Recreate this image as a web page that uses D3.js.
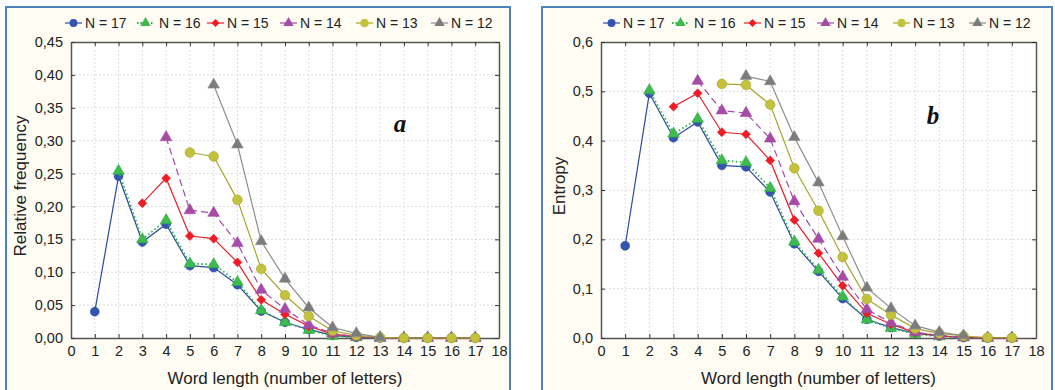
<!DOCTYPE html>
<html>
<head>
<meta charset="utf-8">
<script src="https://cdn.jsdelivr.net/npm/d3@7"></script>
<style>
	body{margin:0;background:#fff;}
	svg{display:block;font-family:"Liberation Sans", Arial, sans-serif;}
</style>
</head>
<body>
<div id="chart"></div>
<script>
// series labels and the word length each series starts at
const seriesNames = ['N = 17', 'N = 16', 'N = 15', 'N = 14', 'N = 13', 'N = 12'];
const seriesStart = [1, 2, 3, 4, 5, 6];

// relative frequency (panel a), values from word length = seriesStart
const freqN17 = [0.040, 0.246, 0.146, 0.173, 0.110, 0.107, 0.081, 0.041, 0.024, 0.013, 0.004, 0.001, 0, 0, 0, 0, 0];
const freqN16 = [0.254, 0.150, 0.179, 0.113, 0.112, 0.085, 0.042, 0.024, 0.012, 0.003, 0.001, 0, 0, 0, 0, 0];
const freqN15 = [0.205, 0.243, 0.155, 0.151, 0.115, 0.058, 0.036, 0.018, 0.006, 0.002, 0, 0, 0, 0, 0];
const freqN14 = [0.305, 0.194, 0.190, 0.144, 0.073, 0.044, 0.020, 0.007, 0.002, 0, 0, 0, 0, 0];
const freqN13 = [0.282, 0.276, 0.210, 0.105, 0.065, 0.033, 0.011, 0.004, 0.001, 0, 0, 0, 0];
const freqN12 = [0.385, 0.294, 0.147, 0.090, 0.046, 0.016, 0.007, 0.001];

// entropy (panel b)
const entN17 = [0.187, 0.496, 0.406, 0.438, 0.350, 0.347, 0.296, 0.191, 0.135, 0.080, 0.038, 0.021, 0.0095, 0.004, 0.001, 0, 0];
const entN16 = [0.502, 0.414, 0.444, 0.360, 0.356, 0.304, 0.195, 0.138, 0.084, 0.037, 0.020, 0.008, 0.003, 0.001, 0, 0];
const entN15 = [0.469, 0.496, 0.417, 0.413, 0.360, 0.239, 0.172, 0.106, 0.050, 0.028, 0.011, 0.005, 0.001, 0, 0];
const entN14 = [0.521, 0.461, 0.456, 0.404, 0.277, 0.201, 0.124, 0.058, 0.031, 0.012, 0.005, 0.0015, 0, 0];
const entN13 = [0.515, 0.513, 0.473, 0.344, 0.258, 0.164, 0.079, 0.047, 0.019, 0.0095, 0.004, 0.001, 0.0005];
const entN12 = [0.531, 0.520, 0.407, 0.315, 0.206, 0.102, 0.060, 0.025, 0.012, 0.005];

// axis ticks
const xTicks = d3.range(0, 19);
const freqTicks = [0, 0.05, 0.10, 0.15, 0.20, 0.25, 0.30, 0.35, 0.40, 0.45];
const entTicks = [0, 0.1, 0.2, 0.3, 0.4, 0.5, 0.6];

// series styles
const styles = [
	{color:'#2b4ba0', fill:'#3354b0', symbol:d3.symbolCircle, size:62, dash:null, rot:0},
	{color:'#2fae48', fill:'#3dbb4c', symbol:d3.symbolTriangle, size:58, dash:'1.5,2.5', rot:0},
	{color:'#e8202a', fill:'#ee1c25', symbol:d3.symbolSquare, size:40, dash:null, rot:45},
	{color:'#a24aa8', fill:'#a64ca6', symbol:d3.symbolTriangle, size:58, dash:'7,4', rot:0},
	{color:'#a6a62c', fill:'#c4c23c', symbol:d3.symbolCircle, size:74, dash:null, rot:0},
	{color:'#8c8c8c', fill:'#7c7c7c', symbol:d3.symbolTriangle, size:58, dash:null, rot:0}
];

const svg = d3.select('#chart').append('svg').attr('width', 1055).attr('height', 390);

/*
Draws one panel
	box - outer frame {x0, x1}
	plot - plot area {left, right, top, bottom}
*/
function drawPanel(box, plot, seriesArr, yTicks, yMax, yFormat, yTitle, letter, letterPos, legendX, legendStep){
	let g = svg.append('g');
	g.append('rect')
		.attr('x', box.x0).attr('y', 7)
		.attr('width', box.x1 - box.x0).attr('height', 400)
		.attr('fill', '#fffcf4')
		.attr('stroke', '#4f81bd').attr('stroke-width', 2);

	const x = d3.scaleLinear().domain([0, 18]).range([plot.left, plot.right]);
	const y = d3.scaleLinear().domain([0, yMax]).range([plot.bottom, plot.top]);

	g.append('rect')
		.attr('x', plot.left).attr('y', plot.top)
		.attr('width', plot.right - plot.left).attr('height', plot.bottom - plot.top)
		.attr('fill', '#fff');

	// grid
	g.append('g').selectAll('line').data(xTicks.slice(1, -1)).join('line')
		.attr('x1', d => x(d)).attr('x2', d => x(d))
		.attr('y1', plot.top).attr('y2', plot.bottom)
		.attr('stroke', '#dcdcdc').attr('stroke-dasharray', '2,2');
	g.append('g').selectAll('line').data(yTicks.slice(1, -1)).join('line')
		.attr('x1', plot.left).attr('x2', plot.right)
		.attr('y1', d => y(d)).attr('y2', d => y(d))
		.attr('stroke', '#dcdcdc').attr('stroke-dasharray', '2,2');

	// axes with inward ticks
	const axB = g.append('g').attr('transform', `translate(0,${plot.bottom})`)
		.call(d3.axisBottom(x).tickValues(xTicks).tickSizeInner(-4).tickSizeOuter(0).tickPadding(8));
	const axT = g.append('g').attr('transform', `translate(0,${plot.top})`)
		.call(d3.axisTop(x).tickValues(xTicks).tickSizeInner(-4).tickSizeOuter(0).tickFormat(''));
	const axL = g.append('g').attr('transform', `translate(${plot.left},0)`)
		.call(d3.axisLeft(y).tickValues(yTicks).tickSizeInner(-4).tickSizeOuter(0).tickPadding(8).tickFormat(yFormat));
	const axR = g.append('g').attr('transform', `translate(${plot.right},0)`)
		.call(d3.axisRight(y).tickValues(yTicks).tickSizeInner(-4).tickSizeOuter(0).tickFormat(''));
	[axB, axT, axL, axR].forEach(function(a){
		a.select('.domain').attr('stroke', '#555').attr('stroke-width', 1.5);
		a.selectAll('.tick line').attr('stroke', '#333');
		a.selectAll('.tick text').attr('font-size', 14.5).attr('fill', '#222')
			.attr('font-family', '"Liberation Sans", Arial, sans-serif');
	});

	// series
	const line = d3.line().x(d => x(d[0])).y(d => y(d[1]));
	seriesArr.forEach(function(vals, si){
		let st = styles[si],
			pts = vals.map((v, vi) => [seriesStart[si] + vi, v]);
		g.append('path').datum(pts)
			.attr('d', line)
			.attr('fill', 'none')
			.attr('stroke', st.color)
			.attr('stroke-width', st.dash === '1.5,2.5' ? 1.8 : 1.2)
			.attr('stroke-dasharray', st.dash);
		g.append('g').selectAll('path').data(pts).join('path')
			.attr('transform', d => `translate(${x(d[0])},${y(d[1])}) rotate(${st.rot})`)
			.attr('d', d3.symbol().type(st.symbol).size(st.size))
			.attr('fill', st.fill)
			.attr('stroke', st.color).attr('stroke-width', 0.6);
	});

	// legend
	let lx = legendX;
	seriesNames.forEach(function(name, si){
		let st = styles[si];
		g.append('line')
			.attr('x1', lx).attr('x2', lx + 17).attr('y1', 23).attr('y2', 23)
			.attr('stroke', st.color).attr('stroke-width', st.dash === '1.5,2.5' ? 1.8 : 1.2)
			.attr('stroke-dasharray', st.dash === '1.5,2.5' ? '1.5,2' : null);
		g.append('path')
			.attr('transform', `translate(${lx + 8.5},23) rotate(${st.rot})`)
			.attr('d', d3.symbol().type(st.symbol).size(st.size * 0.8))
			.attr('fill', st.fill);
		g.append('text')
			.attr('x', lx + (si === 1 ? 22 : 20)).attr('y', 28)
			.attr('font-size', 14).attr('fill', '#222')
			.text(name);
		lx += legendStep[si] || 0;
	});

	// titles
	g.append('text')
		.attr('x', (plot.left + plot.right) / 2).attr('y', 384)
		.attr('text-anchor', 'middle').attr('font-size', 17).attr('fill', '#222')
		.text('Word length (number of letters)');
	g.append('text')
		.attr('transform', `translate(${yTitle.x},${(plot.top + plot.bottom) / 2 - 4}) rotate(-90)`)
		.attr('text-anchor', 'middle').attr('dominant-baseline', 'central')
		.attr('font-size', 17).attr('fill', '#222')
		.text(yTitle.text);
	g.append('text')
		.attr('x', letterPos[0]).attr('y', letterPos[1])
		.attr('font-family', '"Liberation Serif", "Times New Roman", serif')
		.attr('font-style', 'italic').attr('font-weight', 'bold')
		.attr('font-size', 25).attr('fill', '#111')
		.attr('text-anchor', 'middle')
		.text(letter);
}

drawPanel({x0:6, x1:510}, {left:71, right:499, top:42, bottom:338},
	[freqN17, freqN16, freqN15, freqN14, freqN13, freqN12],
	freqTicks, 0.45, d3.format('.2f'),
	{x:20, text:'Relative frequency'}, 'a', [400, 132], 65, [72, 70, 73, 76, 75]);

drawPanel({x0:542, x1:1052}, {left:601, right:1036, top:42, bottom:338},
	[entN17, entN16, entN15, entN14, entN13, entN12],
	entTicks, 0.6, d3.format('.1f'),
	{x:559, text:'Entropy'}, 'b', [933, 124], 603, [69, 72, 73, 76, 76]);

// decimal comma as in the original
svg.selectAll('.tick text').each(function(){
	const s = d3.select(this);
	s.text(s.text().replace('.', ','));
});
</script>
</body>
</html>
